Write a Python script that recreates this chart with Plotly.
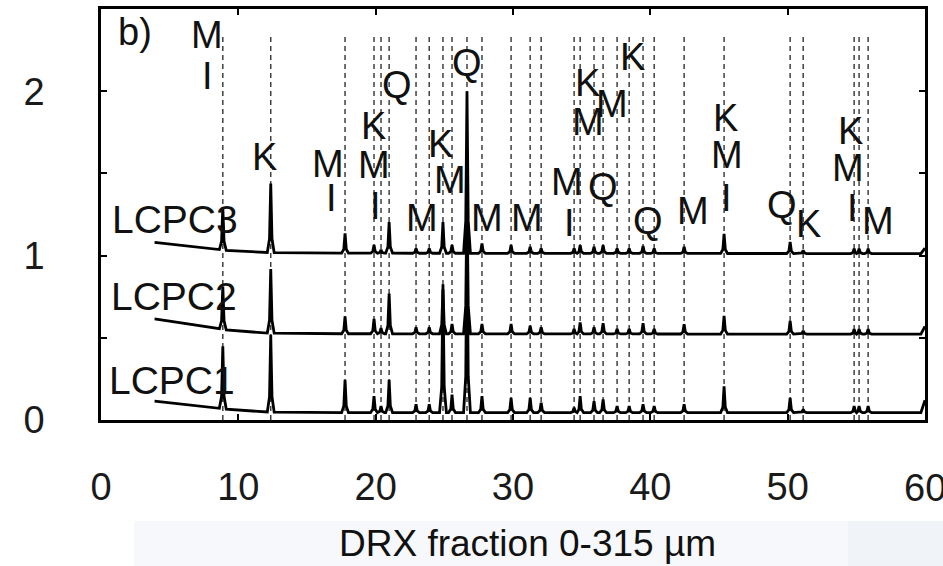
import numpy as np
import plotly.graph_objects as go

# Reflection positions (2-theta, degrees) marked by dashed guide lines
peak_2theta = [8.87, 12.36, 17.77, 19.88, 20.39, 20.98, 22.94, 23.9, 24.9, 25.56,
               26.65, 27.74, 29.86, 31.25, 32.05, 34.45, 34.89, 35.9, 36.56, 37.58,
               38.46, 39.47, 40.28, 42.46, 45.37, 50.18, 51.13, 54.84, 55.2, 55.86]

# Peak heights above the background, one value per reflection
height_lcpc3 = [0.26, 0.42, 0.12, 0.05, 0.02, 0.19, 0.03, 0.03, 0.19, 0.05,
                0.985, 0.06, 0.05, 0.04, 0.03, 0.03, 0.05, 0.04, 0.05, 0.03,
                0.03, 0.045, 0.03, 0.04, 0.12, 0.07, 0.02, 0.03, 0.03, 0.03]
height_lcpc2 = [0.26, 0.39, 0.105, 0.09, 0.035, 0.245, 0.04, 0.04, 0.27, 0.06,
                0.85, 0.06, 0.06, 0.05, 0.04, 0.03, 0.07, 0.04, 0.065, 0.03,
                0.03, 0.065, 0.03, 0.06, 0.11, 0.08, 0.02, 0.03, 0.03, 0.03]
height_lcpc1 = [0.38, 0.47, 0.20, 0.10, 0.04, 0.20, 0.05, 0.05, 0.78, 0.11,
                1.10, 0.10, 0.09, 0.09, 0.06, 0.03, 0.10, 0.07, 0.08, 0.04,
                0.04, 0.05, 0.04, 0.05, 0.16, 0.09, 0.02, 0.04, 0.04, 0.04]

# Background level of each (offset) pattern: 2-theta anchors and intensities
bg_2theta = [3.9, 5.0, 6.5, 8.3, 9.6, 11.5, 14.0, 59.7, 60.0]
bg_lcpc3 = [1.08, 1.065, 1.05, 1.04, 1.027, 1.02, 1.015, 1.012, 1.045]
bg_lcpc2 = [0.615, 0.595, 0.575, 0.56, 0.54, 0.53, 0.525, 0.522, 0.57]
bg_lcpc1 = [0.115, 0.10, 0.09, 0.075, 0.06, 0.05, 0.045, 0.045, 0.12]

samples = ["LCPC3", "LCPC2", "LCPC1"]
x_ticks = [0, 10, 20, 30, 40, 50, 60]

# Phase letters: (text, 2-theta, intensity)
phase_labels = [
    ("M", 7.72, 2.34), ("I", 7.79, 2.09), ("K", 11.87, 1.60),
    ("M", 16.53, 1.56), ("I", 16.75, 1.35),
    ("K", 19.81, 1.79), ("M", 19.88, 1.55), ("I", 20.02, 1.30), ("Q", 21.55, 2.04),
    ("M", 23.37, 1.23), ("K", 24.69, 1.68), ("M", 25.41, 1.46), ("Q", 26.65, 2.17),
    ("M", 28.11, 1.23), ("M", 31.02, 1.23), ("M", 33.93, 1.45), ("I", 34.15, 1.20),
    ("K", 35.46, 2.05), ("M", 35.46, 1.81), ("M", 37.21, 1.92), ("Q", 36.55, 1.42),
    ("K", 38.67, 2.21), ("Q", 39.83, 1.21), ("M", 43.11, 1.27),
    ("K", 45.44, 1.84), ("M", 45.58, 1.61), ("I", 45.58, 1.35),
    ("Q", 49.59, 1.31), ("K", 51.55, 1.19),
    ("K", 54.54, 1.76), ("M", 54.39, 1.53), ("I", 54.69, 1.29), ("M", 56.58, 1.21),
]
sample_label_pos = [(5.39, 1.22), (5.32, 0.75), (5.17, 0.24)]


def pattern(heights, bg_y):
    """Polyline of a diffractogram: background plus sharp reflections."""
    xs, ys = [bg_2theta[0]], [bg_y[0]]
    bg = lambda t: float(np.interp(t, bg_2theta, bg_y))
    n = len(peak_2theta)
    for i, (p, h) in enumerate(zip(peak_2theta, heights)):
        left = p - 0.25 if i == 0 else max(p - 0.25, (p + peak_2theta[i - 1]) / 2)
        right = p + 0.25 if i == n - 1 else min(p + 0.25, (p + peak_2theta[i + 1]) / 2)
        b = bg(p)
        xs += [left, p - 0.09, p, p + 0.09, right]
        ys += [bg(left), b + 0.2 * h, b + h, b + 0.2 * h, bg(right)]
    xs += bg_2theta[-2:]
    ys += bg_y[-2:]
    return xs, ys


fig = go.Figure()

# Dashed guide lines at each reflection
for p in peak_2theta:
    fig.add_trace(go.Scatter(x=[p, p], y=[0, 2.34], mode="lines",
                             line=dict(color="#404040", width=1.5, dash="5px,4px"),
                             hoverinfo="skip", showlegend=False))

for heights, bg_y, name in zip([height_lcpc3, height_lcpc2, height_lcpc1],
                               [bg_lcpc3, bg_lcpc2, bg_lcpc1], samples):
    x, y = pattern(heights, bg_y)
    fig.add_trace(go.Scatter(x=x, y=y, mode="lines", name=name,
                             line=dict(color="black", width=2.8),
                             showlegend=False))

FONT = "Arial, Liberation Sans, sans-serif"
label_font = dict(family=FONT, size=38, color="#111111")
annotations = [dict(x=x, y=y, text=t, showarrow=False, font=label_font,
                    xanchor="center", yanchor="middle") for t, x, y in phase_labels]
for name, (x, y) in zip(samples, sample_label_pos):
    annotations.append(dict(x=x, y=y, text=name, showarrow=False,
                            font=dict(family=FONT, size=39, color="#111111"),
                            xanchor="center", yanchor="middle"))
annotations.append(dict(x=2.48, y=2.36, text="b)", showarrow=False, font=label_font,
                        xanchor="center", yanchor="middle"))
# last x tick label sits at the page edge; placed as text so it is not dropped
annotations.append(dict(x=x_ticks[-1], y=-0.165, yref="paper", text=str(x_ticks[-1]),
                        showarrow=False, font=dict(family=FONT, size=38, color="#1a1a1a"),
                        xanchor="center", yanchor="middle"))
annotations.append(dict(x=0.517, y=-0.30, xref="paper", yref="paper",
                        text="DRX fraction 0-315 µm", showarrow=False,
                        font=dict(family=FONT, size=37, color="#111111"),
                        xanchor="center", yanchor="middle"))

tick_font = dict(family=FONT, size=38, color="#1a1a1a")
fig.update_layout(
    width=943, height=566,
    margin=dict(l=101, r=18, t=6, b=146),
    paper_bgcolor="white", plot_bgcolor="white",
    annotations=annotations,
    shapes=[
        dict(type="rect", xref="paper", yref="paper", x0=0.04, x1=0.906,
             y0=-0.36, y1=-0.246, fillcolor="#f7f8fb", line_width=0, layer="below"),
        dict(type="rect", xref="paper", yref="paper", x0=0.906, x1=1.03,
             y0=-0.36, y1=-0.246, fillcolor="#f0f4f8", line_width=0, layer="below"),
    ],
)
fig.update_xaxes(range=[0, 60], tickvals=x_ticks,
                 ticktext=[str(v) for v in x_ticks[:-1]] + [""],
                 ticks="inside", ticklen=6, tickwidth=2, tickcolor="black",
                 showline=True, linecolor="black", linewidth=2.5, mirror="ticks",
                 showgrid=False, zeroline=False, tickfont=tick_font,
                 ticklabelstandoff=32)
fig.update_yaxes(range=[0, 2.5], tickvals=[0, 0.5, 1, 1.5, 2],
                 ticktext=["0", "", "1", "", "2"],
                 ticks="inside", ticklen=6, tickwidth=2, tickcolor="black",
                 showline=True, linecolor="black", linewidth=2.5, mirror="ticks",
                 showgrid=False, zeroline=False, tickfont=tick_font,
                 ticklabelstandoff=46)

fig.write_html("out.html")
